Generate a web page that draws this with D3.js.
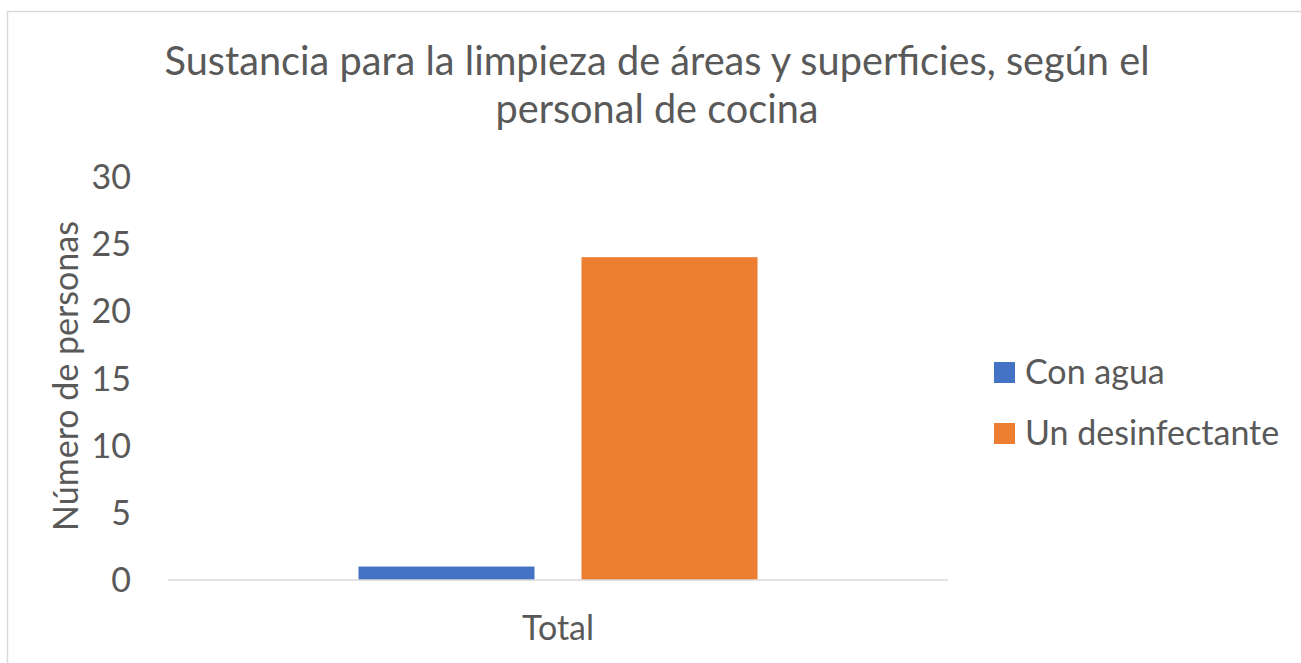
<!DOCTYPE html>
<html>
<head>
<meta charset="utf-8">
<script src="https://cdn.jsdelivr.net/npm/d3@7"></script>
<style>
  html, body { margin: 0; padding: 0; background: #fff; }
  svg { display: block; }
  text { font-family: Lato, "Open Sans", sans-serif; fill: #595959; }
</style>
</head>
<body>
<svg id="chart" width="1301" height="663"></svg>
<script>
// Chart data
const categories = ["Total"];
const seriesNames = ["Con agua", "Un desinfectante"];
const seriesColors = ["#4472C4", "#ED7D31"];
const conAgua = [1];
const unDesinfectante = [24];
const yTicks = [0, 5, 10, 15, 20, 25, 30];
const titleLines = ["Sustancia para la limpieza de áreas y superficies, según el", "personal de cocina"];
const yAxisTitle = "Número de personas";

const seriesValues = [conAgua, unDesinfectante];
const rows = categories.map((c, i) => ({
  category: c,
  values: seriesNames.map((s, j) => ({ series: s, value: seriesValues[j][i], color: seriesColors[j] }))
}));

const svg = d3.select("#chart");

// Chart area border
svg.append("rect")
  .attr("x", 7.5).attr("y", 11.5)
  .attr("width", 1310).attr("height", 670)
  .attr("fill", "#fff").attr("stroke", "#D9D9D9").attr("stroke-width", 1.5);

const plot = { left: 168, right: 948, top: 176.5, bottom: 580 };

const y = d3.scaleLinear().domain([0, 30]).range([plot.bottom, plot.top]);

const x0 = d3.scaleBand()
  .domain(categories)
  .range([plot.left, plot.right])
  .paddingInner(0)
  .paddingOuter(0.4774);

const x1 = d3.scaleBand()
  .domain(seriesNames)
  .range([0, x0.bandwidth()])
  .paddingInner(0.2108)
  .paddingOuter(0);

// Title
svg.append("g").selectAll("text")
  .data(titleLines)
  .join("text")
  .attr("x", 657)
  .attr("y", (d, i) => 75 + i * 48)
  .attr("text-anchor", "middle")
  .attr("font-size", 40)
  .attr("textLength", (d, i) => i === 0 ? 985 : 323)
  .attr("lengthAdjust", "spacingAndGlyphs")
  .text(d => d);

// Y axis (labels only)
const yAxis = d3.axisLeft(y).tickValues(yTicks).tickSize(0).tickPadding(0).tickFormat(d3.format("d"));
const yg = svg.append("g")
  .attr("transform", `translate(131,0)`)
  .call(yAxis);
yg.select(".domain").remove();
yg.selectAll("text")
  .attr("font-size", 34)
  .attr("font-family", "Lato, 'Open Sans', sans-serif")
  .attr("fill", "#595959")
  .attr("dy", "0.35em");

// Bars
const groups = svg.append("g").selectAll("g")
  .data(rows)
  .join("g")
  .attr("transform", d => `translate(${x0(d.category)},0)`);

groups.selectAll("rect")
  .data(d => d.values)
  .join("rect")
  .attr("x", d => x1(d.series))
  .attr("width", x1.bandwidth())
  .attr("y", d => y(d.value))
  .attr("height", d => y(0) - y(d.value))
  .attr("fill", d => d.color);

// Category axis
const xAxis = d3.axisBottom(x0).tickSize(0).tickPadding(0);
const xg = svg.append("g")
  .attr("transform", `translate(0,${plot.bottom})`)
  .call(xAxis);
xg.select(".domain").attr("stroke", "#D9D9D9").attr("stroke-width", 1.5)
  .attr("d", `M${plot.left},0H${plot.right}`);
xg.selectAll("text")
  .attr("font-size", 34)
  .attr("font-family", "Lato, 'Open Sans', sans-serif")
  .attr("fill", "#595959")
  .attr("dy", 0)
  .attr("y", 60);

// Y axis title
svg.append("text")
  .attr("transform", `translate(78,376) rotate(-90)`)
  .attr("text-anchor", "middle")
  .attr("font-size", 34)
  .text(yAxisTitle);

// Legend
const legend = svg.append("g").selectAll("g")
  .data(seriesNames)
  .join("g")
  .attr("transform", (d, i) => `translate(994,${362 + i * 61})`);
legend.append("rect")
  .attr("width", 21).attr("height", 21)
  .attr("fill", (d, i) => seriesColors[i]);
legend.append("text")
  .attr("x", 31).attr("y", 10.5)
  .attr("dy", "0.35em")
  .attr("font-size", 34)
  .text(d => d);
</script>
</body>
</html>
